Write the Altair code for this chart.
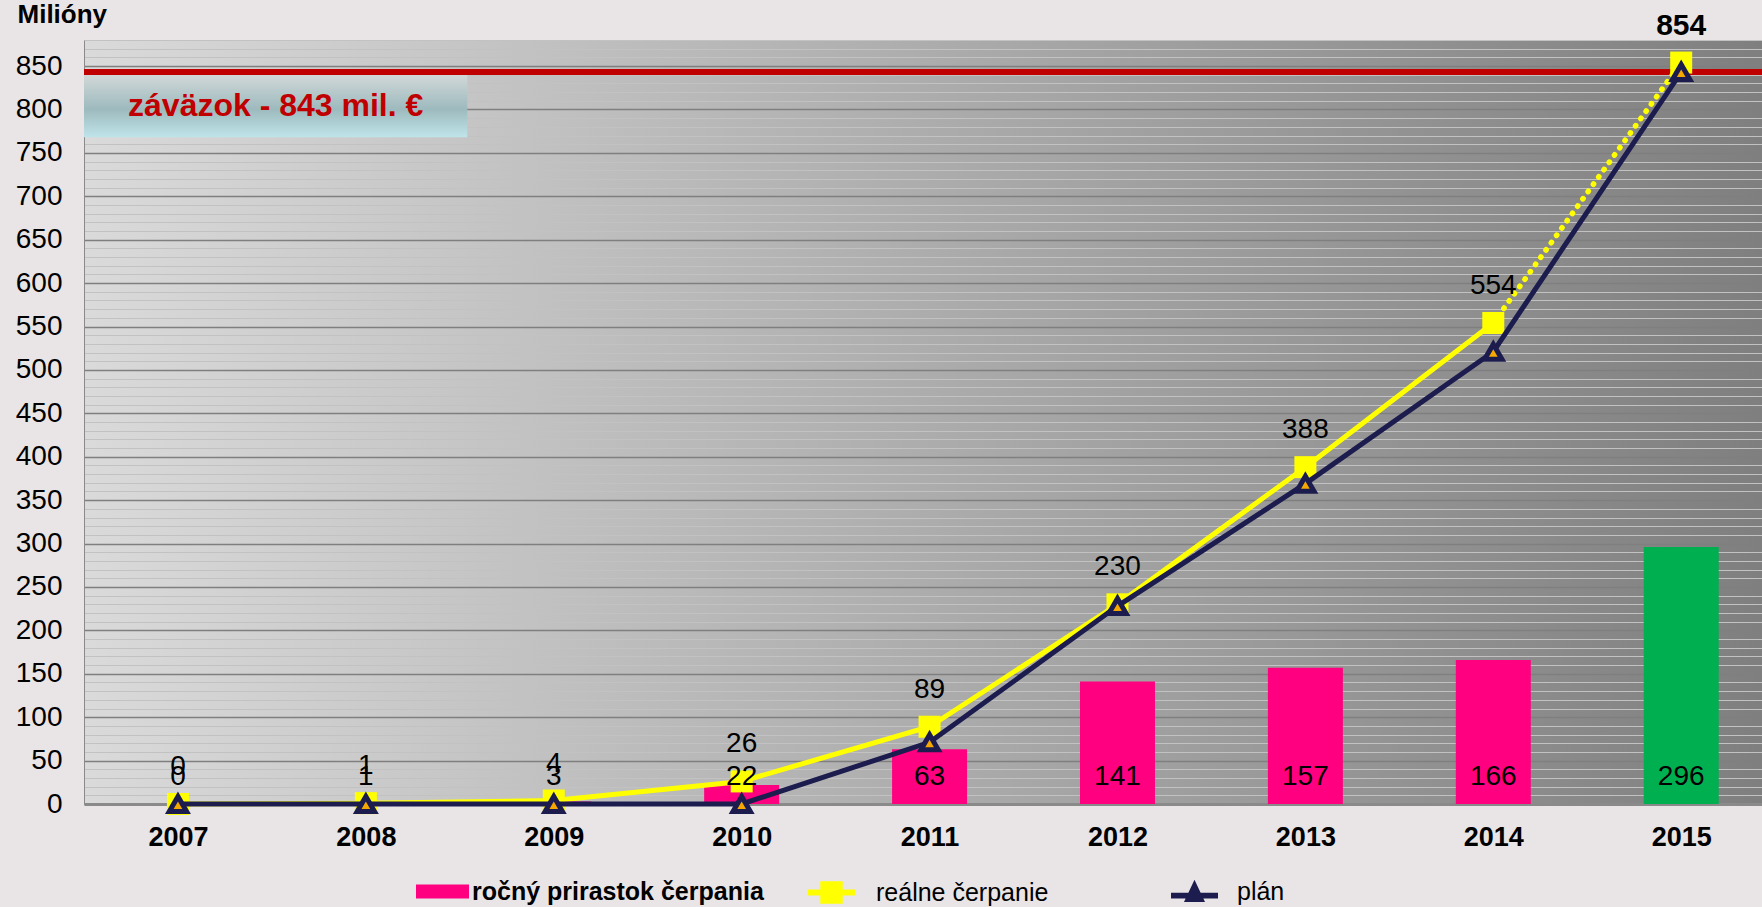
import altair as alt
import pandas as pd

# ---- data ----
roky = [2007, 2008, 2009, 2010, 2011, 2012, 2013, 2014, 2015]
prirastok = [0, 1, 3, 22, 63, 141, 157, 166, 296]      # ročný prírastok čerpania (bars)
realne = [0, 1, 4, 26, 89, 230, 388, 554, 854]         # reálne čerpanie (cumulative)
plan = [0, 0, 0, 0, 71, 228, 369, 521, 843]            # plán
zavazok = [843]                                        # commitment line
zavazok_text = "záväzok - 843 mil. €"
box_x = [2006.5, 2008.54]
box_y = [768, 840]
legend_labels = ["ročný prirastok čerpania", "reálne čerpanie", "plán"]
y_title = "Milióny"

FONT = "Liberation Sans"
PINK = "#ff0080"
GREEN = "#00b050"
YELLOW = "#ffff00"
NAVY = "#1c1c4e"
ORANGE = "#f5a800"
RED = "#c00000"
AXIS_GREY = "#8a8a8a"

df = pd.DataFrame({"rok": roky, "prirastok": prirastok, "realne": realne, "plan": plan})
df_real_solid = df[df["rok"] <= 2014]
df_real_dot = df[df["rok"] >= 2014]
df_zav = pd.DataFrame({"zavazok": zavazok})
df_box = pd.DataFrame({"x": [box_x[0]], "x2": [box_x[1]], "y": [box_y[0]], "y2": [box_y[1]],
                       "tx": [(box_x[0] + box_x[1]) / 2], "ty": [(box_y[0] + box_y[1]) / 2],
                       "t": [zavazok_text]})

xs = alt.Scale(domain=[2006.5, 2015.43], nice=False, zero=False, padding=0)
ys = alt.Scale(domain=[0, 880], nice=False, zero=False, padding=0)

half_ticks = [r + 0.5 for r in roky[:-1]]
x_axis = alt.Axis(
    values=sorted(roky + half_ticks), format="d",
    labelExpr="datum.value % 1 === 0 ? datum.label : ''",
    tickOpacity={"condition": {"test": "datum.value % 1 === 0", "value": 0}, "value": 1},
    tickSize=10, tickColor=AXIS_GREY, tickWidth=1.5,
    grid=False, domainColor=AXIS_GREY, domainWidth=3,
    labelFont=FONT, labelFontSize=27, labelFontWeight="bold", labelColor="black",
    labelPadding=10, labelOverlap=False, labelFlush=False, title=None,
)
y_axis = alt.Axis(
    values=list(range(0, 881, 10)),
    labelExpr="datum.value % 50 === 0 ? datum.label : ''",
    ticks=False, tickSize=0, labelPadding=22, labelOverlap=False, labelFlush=False,
    labelFont=FONT, labelFontSize=28, labelColor="black",
    domainColor=AXIS_GREY, domainWidth=1,
    grid=True,
    gridColor={"condition": {"test": "datum.value % 50 === 0", "value": "#7f7f7f"}, "value": "#c2c2c2"},
    gridWidth={"condition": {"test": "datum.value % 50 === 0", "value": 1.6}, "value": 1},
    title=y_title, titleAngle=0, titleX=-67, titleY=-18, titleAlign="left",
    titleBaseline="alphabetic", titleFont=FONT, titleFontSize=26, titleFontWeight="bold",
    titleColor="black",
)

X = alt.X("rok:Q", scale=xs, axis=x_axis)


def Y(field):
    return alt.Y(field, scale=ys, axis=y_axis)


is2015 = alt.datum.rok == 2015

bars = alt.Chart(df).mark_bar(orient="vertical", size=75).encode(
    x=X, y=Y("prirastok:Q"),
    color=alt.when(is2015).then(alt.value(GREEN)).otherwise(alt.value(PINK)),
)

box = alt.Chart(df_box).mark_rect(
    color=alt.LinearGradient(gradient="linear", x1=0, y1=0, x2=0, y2=1, stops=[
        alt.GradientStop(offset=0, color="#d2d8d8"),
        alt.GradientStop(offset=0.55, color="#9dbabe"),
        alt.GradientStop(offset=1, color="#bfe4ea"),
    ])
).encode(x=alt.X("x:Q", scale=xs, axis=x_axis), x2="x2:Q", y=Y("y:Q"), y2="y2:Q")

box_text = alt.Chart(df_box).mark_text(
    font=FONT, fontSize=32, fontWeight="bold", color=RED, align="center", baseline="middle"
).encode(x=alt.X("tx:Q", scale=xs, axis=x_axis), y=Y("ty:Q"), text="t:N")

rule = alt.Chart(df_zav).mark_rule(color=RED, strokeWidth=6).encode(y=Y("zavazok:Q"))

real_line = alt.Chart(df_real_solid).mark_line(color=YELLOW, strokeWidth=5).encode(x=X, y=Y("realne:Q"))
real_dot = alt.Chart(df_real_dot).mark_line(
    color=YELLOW, strokeWidth=5.5, strokeDash=[0.5, 8.5], strokeCap="round"
).encode(x=X, y=Y("realne:Q"))
real_pts = alt.Chart(df).mark_square(size=484, color=YELLOW, opacity=1).encode(x=X, y=Y("realne:Q"))

plan_line = alt.Chart(df).mark_line(color=NAVY, strokeWidth=5).encode(x=X, y=Y("plan:Q"))
plan_pts = alt.Chart(df).mark_point(
    shape="triangle-up", filled=True, fill=ORANGE, stroke=NAVY, strokeWidth=5, size=300, opacity=1
).encode(x=X, y=Y("plan:Q"))

bar_labels = alt.Chart(df).transform_calculate(base="0").mark_text(
    font=FONT, fontSize=28, color="black", baseline="middle", dy=-27
).encode(x=X, y=Y("base:Q"), text="prirastok:Q")

real_labels = alt.Chart(df).transform_filter("datum.rok < 2015").mark_text(
    font=FONT, fontSize=28, color="black", baseline="middle", dy=-37
).encode(x=X, y=Y("realne:Q"), text="realne:Q")
real_label_last = alt.Chart(df).transform_filter("datum.rok == 2015").mark_text(
    font=FONT, fontSize=30, fontWeight="bold", color="black", baseline="middle", dy=-37
).encode(x=X, y=Y("realne:Q"), text="realne:Q")

# ---- legend (three real legends, one per series) ----
P_BAR = "M-1,-0.264H1V0.264H-1Z"
P_REAL = "M-1,-0.13H-0.478V-0.478H0.478V-0.13H1V0.13H0.478V0.478H-0.478V0.13H-1Z"
P_PLAN = "M-1,0.05H1V0.3H-1Z M-0.447,0.45L0,-0.5L0.447,0.45Z"

lg_common = dict(orient="none", title=None, padding=0, labelFont=FONT, labelFontSize=25,
                 labelColor="black", symbolStrokeWidth=0, labelLimit=400, symbolOpacity=1)

leg1 = alt.Chart(pd.DataFrame({"lg": [legend_labels[0]]})).transform_filter("false").mark_point(
    filled=True, opacity=1).encode(
    fill=alt.Fill("lg:N", scale=alt.Scale(domain=[legend_labels[0]], range=[PINK]),
                  legend=alt.Legend(legendX=332, legendY=825, symbolType=P_BAR, symbolSize=2809,
                                    labelFontWeight="bold", labelOffset=3, **lg_common)))
leg2 = alt.Chart(pd.DataFrame({"lg": [legend_labels[1]]})).transform_filter("false").mark_point(
    filled=True, opacity=1).encode(
    color=alt.Color("lg:N", scale=alt.Scale(domain=[legend_labels[1]], range=[YELLOW]),
                    legend=alt.Legend(legendX=724, legendY=829, symbolType=P_REAL, symbolSize=2209,
                                      labelFontWeight="normal", labelOffset=21, **lg_common)))
leg3 = alt.Chart(pd.DataFrame({"lg": [legend_labels[2]]})).transform_filter("false").mark_point(
    filled=True, color=NAVY, opacity=1).encode(
    shape=alt.Shape("lg:N", scale=alt.Scale(domain=[legend_labels[2]], range=[P_PLAN]),
                    legend=alt.Legend(legendX=1087, legendY=828, symbolSize=2209,
                                      symbolFillColor=NAVY,
                                      labelFontWeight="normal", labelOffset=19, **lg_common)))

GRAD = ("{gradient: 'linear', x1: 0, y1: 0, x2: 1, y2: 0, "
        "stops: [{offset: 0, color: '#dadada'}, {offset: 1, color: '#7f7f7f'}]}")

chart = alt.layer(
    bars, box, rule, box_text, real_line, real_dot, real_pts, plan_line, plan_pts,
    bar_labels, real_labels, real_label_last, leg1, leg2, leg3,
).properties(
    width=1678, height=764,
    autosize=alt.AutoSizeParams(type="none"),
    padding={"left": 84, "top": 40, "right": 0, "bottom": 103},
    background="#e9e5e6",
    view=alt.ViewBackground(fill=alt.ExprRef(expr=GRAD), stroke="transparent"),
).resolve_scale(color="independent", fill="independent", shape="independent")

chart.save("out.html", embed_options={"renderer": "svg", "actions": False})
